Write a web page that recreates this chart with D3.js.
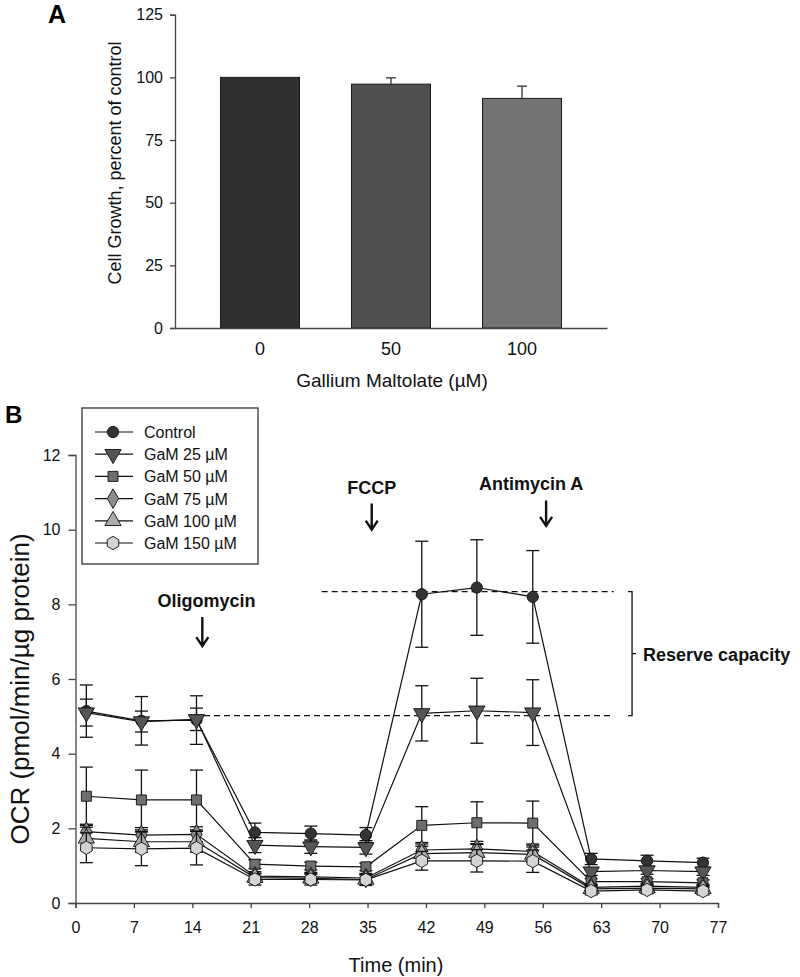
<!DOCTYPE html>
<html><head><meta charset="utf-8">
<script src="https://cdn.jsdelivr.net/npm/d3@7"></script>
<style>body{margin:0;background:#fff}svg{display:block}text{font-family:Arial,"Liberation Sans",sans-serif}</style>
</head><body><svg id="c" width="800" height="977"></svg>
<script>
// ---------- Panel A data ----------
const aCategories = ["0", "50", "100"];
const aValues = [100, 97.3, 91.6];
const aErrors = [0, 2.5, 4.9];
const aColors = ["#2f2f2f", "#505050", "#737373"];
const aTicks = [0, 25, 50, 75, 100, 125];

// ---------- Panel B data ----------
const times = [1.3, 7.9, 14.5, 21.5, 28.2, 34.8, 41.5, 48.1, 54.8, 61.8, 68.5, 75.2];
const seriesNames = ["Control", "GaM 25 µM", "GaM 50 µM", "GaM 75 µM", "GaM 100 µM", "GaM 150 µM"];
const control = [5.14, 4.88, 4.9, 1.89, 1.86, 1.82, 8.27, 8.45, 8.2, 1.18, 1.13, 1.08];
const controlErr = [0.7, 0.65, 0.65, 0.25, 0.2, 0.2, 1.42, 1.28, 1.24, 0.15, 0.15, 0.12];
const gam25 = [5.1, 4.86, 4.92, 1.55, 1.51, 1.49, 5.08, 5.15, 5.1, 0.84, 0.87, 0.84];
const gam25Err = [0.36, 0.28, 0.3, 0.2, 0.18, 0.18, 0.74, 0.87, 0.88, 0.1, 0.1, 0.1];
const gam50 = [2.86, 2.76, 2.76, 1.04, 0.99, 0.97, 2.08, 2.15, 2.14, 0.57, 0.57, 0.54];
const gam50Err = [0.78, 0.8, 0.8, 0.12, 0.1, 0.1, 0.5, 0.56, 0.59, 0.08, 0.08, 0.08];
const gam75 = [1.91, 1.82, 1.84, 0.72, 0.7, 0.67, 1.42, 1.45, 1.38, 0.42, 0.45, 0.42];
const gam75Err = [0.2, 0.2, 0.2, 0.12, 0.12, 0.12, 0.2, 0.2, 0.2, 0.08, 0.08, 0.08];
const gam100 = [1.73, 1.64, 1.64, 0.68, 0.66, 0.63, 1.32, 1.35, 1.3, 0.38, 0.4, 0.38];
const gam100Err = [0.3, 0.28, 0.28, 0.12, 0.12, 0.12, 0.2, 0.22, 0.2, 0.08, 0.08, 0.08];
const gam150 = [1.48, 1.45, 1.47, 0.63, 0.63, 0.62, 1.13, 1.13, 1.12, 0.32, 0.35, 0.32];
const gam150Err = [0.4, 0.45, 0.45, 0.15, 0.15, 0.15, 0.25, 0.3, 0.3, 0.1, 0.1, 0.1];
const bXTicks = [0, 7, 14, 21, 28, 35, 42, 49, 56, 63, 70, 77];
const bYTicks = [0, 2, 4, 6, 8, 10, 12];
const basalLevel = 5.02, maxLevel = 8.34;

const svg = d3.select("#c");

// ================= Panel A =================
const ax = d3.scaleBand().domain(aCategories).range([175, 607]).paddingInner(0.397).paddingOuter(0.347);
const ay = d3.scaleLinear().domain([0, 125]).range([328, 14.7]);
const gA = svg.append("g");
gA.selectAll("rect.bar").data(aValues).join("rect")
  .attr("x", (d, i) => ax(aCategories[i])).attr("width", ax.bandwidth())
  .attr("y", d => ay(d)).attr("height", d => ay(0) - ay(d))
  .attr("fill", (d, i) => aColors[i]).attr("stroke", "#1a1a1a").attr("stroke-width", 1);
aValues.forEach((v, i) => {
  if (!aErrors[i]) return;
  const cx = ax(aCategories[i]) + ax.bandwidth() / 2;
  gA.append("line").attr("x1", cx).attr("x2", cx).attr("y1", ay(v)).attr("y2", ay(v + aErrors[i])).attr("stroke", "#333").attr("stroke-width", 1.3);
  gA.append("line").attr("x1", cx - 5).attr("x2", cx + 5).attr("y1", ay(v + aErrors[i])).attr("y2", ay(v + aErrors[i])).attr("stroke", "#333").attr("stroke-width", 1.3);
});
const yAxisA = gA.append("g").attr("transform", "translate(175,0)")
  .call(d3.axisLeft(ay).tickValues(aTicks).tickSize(5).tickPadding(7));
yAxisA.selectAll("text").attr("font-size", 16).attr("fill", "#111");
const xAxisA = gA.append("g").attr("transform", "translate(0,328)")
  .call(d3.axisBottom(ax).tickSize(0).tickPadding(14));
xAxisA.selectAll("text").attr("font-size", 18).attr("fill", "#111");
[yAxisA, xAxisA].forEach(g => { g.select(".domain").attr("stroke", "#444").attr("stroke-width", 1.3); g.selectAll(".tick line").attr("stroke", "#444").attr("stroke-width", 1.3); });
gA.append("text").attr("transform", "translate(121,163) rotate(-90)").attr("text-anchor", "middle")
  .attr("font-size", 18).attr("fill", "#111").text("Cell Growth, percent of control");
gA.append("text").attr("x", 392).attr("y", 387).attr("text-anchor", "middle").attr("font-size", 19).attr("fill", "#111").text("Gallium Maltolate (µM)");
gA.append("text").attr("x", 48).attr("y", 23).attr("font-size", 25).attr("font-weight", "bold").text("A");

// ================= Panel B =================
const bx = d3.scaleLinear().domain([0, 77]).range([75.5, 718]);
const by = d3.scaleLinear().domain([0, 12]).range([903, 455]);
const gB = svg.append("g");
const xAxisB = gB.append("g").attr("transform", "translate(0,903)")
  .call(d3.axisBottom(bx).tickValues(bXTicks).tickSize(5).tickPadding(14));
xAxisB.selectAll("text").attr("font-size", 16).attr("fill", "#111");
const yAxisB = gB.append("g").attr("transform", "translate(75.5,0)")
  .call(d3.axisLeft(by).tickValues(bYTicks).tickSize(7).tickPadding(8));
yAxisB.selectAll("text").attr("font-size", 16).attr("fill", "#111");
[xAxisB, yAxisB].forEach(g => { g.select(".domain").attr("stroke", "#444").attr("stroke-width", 1.3); g.selectAll(".tick line").attr("stroke", "#444").attr("stroke-width", 1.3); });
gB.append("text").attr("transform", "translate(29,689) rotate(-90)").attr("text-anchor", "middle")
  .attr("font-size", 26).attr("fill", "#111").text("OCR (pmol/min/µg protein)");
gB.append("text").attr("x", 396).attr("y", 972).attr("text-anchor", "middle").attr("font-size", 20).attr("fill", "#111").text("Time (min)");
gB.append("text").attr("x", 5).attr("y", 423).attr("font-size", 24).attr("font-weight", "bold").text("B");

// symbols
const hexagon = { draw(ctx, size) { const r = Math.sqrt(size / (1.5 * Math.sqrt(3))); for (let i = 0; i < 6; i++) { const a = -Math.PI / 2 + i * Math.PI / 3; const px = r * Math.cos(a), py = r * Math.sin(a); if (i) ctx.lineTo(px, py); else ctx.moveTo(px, py); } ctx.closePath(); } };
const series = [
  { name: seriesNames[0], vals: control, errs: controlErr, sym: d3.symbolCircle, size: 100, rot: 0, fill: "#333333" },
  { name: seriesNames[1], vals: gam25, errs: gam25Err, sym: d3.symbolTriangle, size: 115, rot: 180, fill: "#555555" },
  { name: seriesNames[2], vals: gam50, errs: gam50Err, sym: d3.symbolSquare, size: 100, rot: 0, fill: "#6e6e6e" },
  { name: seriesNames[3], vals: gam75, errs: gam75Err, sym: d3.symbolDiamond, size: 110, rot: 0, fill: "#8c8c8c" },
  { name: seriesNames[4], vals: gam100, errs: gam100Err, sym: d3.symbolTriangle, size: 115, rot: 0, fill: "#ababab" },
  { name: seriesNames[5], vals: gam150, errs: gam150Err, sym: hexagon, size: 115, rot: 0, fill: "#d4d4d4" }
];

// dashed reference lines
gB.append("line").attr("x1", bx(15.4)).attr("x2", bx(64.5)).attr("y1", by(basalLevel)).attr("y2", by(basalLevel))
  .attr("stroke", "#111").attr("stroke-width", 1.3).attr("stroke-dasharray", "6,4");
gB.append("line").attr("x1", bx(29.5)).attr("x2", bx(64.5)).attr("y1", by(maxLevel)).attr("y2", by(maxLevel))
  .attr("stroke", "#111").attr("stroke-width", 1.3).attr("stroke-dasharray", "6,4");

const line = d3.line().x((d, i) => bx(times[i])).y(d => by(d));
series.forEach(s => {
  const g = gB.append("g");
  s.vals.forEach((v, i) => {
    const x = bx(times[i]);
    const y0 = by(v - s.errs[i]), y1 = by(v + s.errs[i]);
    g.append("line").attr("x1", x).attr("x2", x).attr("y1", y0).attr("y2", y1).attr("stroke", "#111").attr("stroke-width", 1.3);
    [y0, y1].forEach(yy => g.append("line").attr("x1", x - 6.5).attr("x2", x + 6.5).attr("y1", yy).attr("y2", yy).attr("stroke", "#111").attr("stroke-width", 1.3));
  });
  g.append("path").attr("d", line(s.vals)).attr("fill", "none").attr("stroke", "#111").attr("stroke-width", 1.2);
  g.selectAll("path.m").data(s.vals).join("path").attr("class", "m")
    .attr("transform", (d, i) => `translate(${bx(times[i])},${by(d)}) rotate(${s.rot})`)
    .attr("d", d3.symbol().type(s.sym).size(s.size)()).attr("fill", s.fill).attr("stroke", "#111").attr("stroke-width", 0.9);
});

// bracket
const brX = bx(66.7);
const bracket = gB.append("g").attr("stroke", "#111").attr("stroke-width", 1.3).attr("fill", "none");
bracket.append("path").attr("d", `M${brX - 4},${by(maxLevel)}H${brX}V${by(basalLevel)}H${brX - 4}`);
bracket.append("line").attr("x1", brX).attr("x2", brX + 4).attr("y1", by((maxLevel + basalLevel) / 2)).attr("y2", by((maxLevel + basalLevel) / 2));
gB.append("text").attr("x", brX + 11).attr("y", by((maxLevel + basalLevel) / 2) + 7).attr("font-family", "'Open Sans',sans-serif")
  .attr("font-weight", "bold").attr("font-size", 18).attr("fill", "#111").text("Reserve capacity");

// annotations with arrows
const annos = [
  { label: "Oligomycin", tx: 15.7, ty: 7.93, ax: 15.2, yTop: 7.66, yBot: 6.88 },
  { label: "FCCP", tx: 35.5, ty: 10.95, ax: 35.5, yTop: 10.7, yBot: 10.0 },
  { label: "Antimycin A", tx: 54.6, ty: 11.05, ax: 56.4, yTop: 10.78, yBot: 10.1 }
];
annos.forEach(a => {
  gB.append("text").attr("x", bx(a.tx)).attr("y", by(a.ty)).attr("text-anchor", "middle").attr("font-family", "'Open Sans',sans-serif")
    .attr("font-weight", "bold").attr("font-size", 18).attr("fill", "#111").text(a.label);
  const x = bx(a.ax), yt = by(a.yTop), yb = by(a.yBot);
  gB.append("path").attr("d", `M${x},${yt}V${yb}M${x - 6},${yb - 9}L${x},${yb}L${x + 6},${yb - 9}`)
    .attr("stroke", "#111").attr("stroke-width", 2.4).attr("fill", "none");
});

// legend
const lg = gB.append("g");
lg.append("rect").attr("x", 82).attr("y", 408).attr("width", 176).attr("height", 156).attr("fill", "#fff").attr("stroke", "#333").attr("stroke-width", 1.3);
series.forEach((s, i) => {
  const y = 432 + i * 22.2;
  lg.append("line").attr("x1", 95).attr("x2", 133).attr("y1", y).attr("y2", y).attr("stroke", "#111").attr("stroke-width", 1.2);
  lg.append("path").attr("transform", `translate(113,${y}) rotate(${s.rot})`).attr("d", d3.symbol().type(s.sym).size(s.size)())
    .attr("fill", s.fill).attr("stroke", "#111").attr("stroke-width", 0.9);
  lg.append("text").attr("x", 144).attr("y", y + 6).attr("font-size", 16).attr("fill", "#111").text(s.name);
});
</script></body></html>
